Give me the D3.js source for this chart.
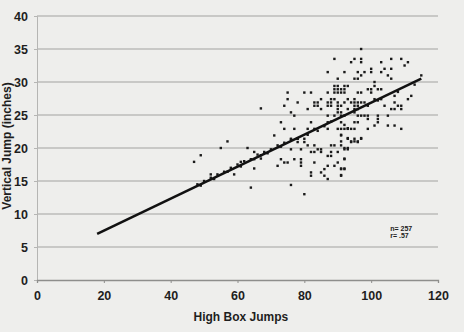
<!DOCTYPE html>
<html>
<head>
<meta charset="utf-8">
<script src="https://cdn.jsdelivr.net/npm/d3@7"></script>
<style>
  html, body { margin: 0; padding: 0; background: #eeeeec; }
  svg { display: block; font-family: "Liberation Sans", Arial, sans-serif; }
</style>
</head>
<body>
<svg id="chart"></svg>
<script>
// values (approximate)
const boxJumps = [
  97, 89, 94, 95, 97, 97, 103, 106, 109, 111, 110,
  87, 92, 96, 97, 98, 100, 100, 103, 104, 106, 105, 106, 95, 96, 90, 115,
  89, 90, 92, 93, 101, 101,
  89, 90, 91, 92, 99, 100, 102, 103,
  75, 80, 82, 87, 89, 90, 91, 92, 96, 97, 100,
  107, 112, 75, 85, 88, 89, 93, 95, 101, 103, 111,
  78, 83, 84, 87, 88, 90, 92, 94, 95, 96, 97, 98, 107,
  74, 83, 84, 87, 88, 90, 91, 95, 96, 104, 108, 109,
  81, 85, 90, 93, 95, 96, 106, 107, 109,
  76, 90, 91, 95,
  77, 87, 89, 91, 92, 96, 97, 98, 99, 102, 105,
  73, 82, 87, 91, 95, 96, 99, 102, 102,
  74, 77, 81, 83, 87, 90, 91, 92, 93, 94, 95, 99, 101, 105, 107, 109,
  71, 76, 78, 80, 91, 93, 95, 97, 94, 96, 78, 80, 81,
  83, 88, 89, 91, 92, 93, 76, 79, 84, 85,
  82, 83, 85, 88, 90, 87, 88, 92, 90,
  73, 74, 75, 77, 79, 79, 79, 72,
  83, 87, 89, 91, 92, 86, 85, 82, 82, 87, 91, 86,
  76, 80, 67,
  57, 55, 63, 49, 47, 65, 52, 59, 61, 65, 64, 67, 67,
  92, 93, 91, 91, 93, 94, 95, 96, 97, 92, 93, 92, 91, 92, 91,
  48, 50, 52, 54, 56, 58, 60, 62, 64, 66, 68, 70, 72, 74, 76,
  49, 53, 57, 61, 65, 69, 73, 78, 81, 84, 86, 88, 99, 102, 108, 113
];
const verticalJumps = [
  35, 33.5, 33, 33.5, 33.5, 33, 33, 33.5, 33.5, 33, 32.5,
  31.5, 31.5, 31.5, 31, 31.5, 32, 31.5, 31.5, 32, 32, 31, 30.5, 30.5, 30.5, 30.5, 31,
  29.4, 29.4, 29.4, 29.4, 30, 29.4,
  28.9, 28.9, 28.9, 28.9, 28.9, 28.9, 28.9, 28.9,
  28.4, 28.4, 28.4, 28.4, 28.4, 28.4, 28.4, 28.4, 28.4, 28.4, 28.4,
  27.9, 27.9, 27.4, 27.4, 27.4, 27.4, 27.4, 27.4, 27.4, 27.4, 27.4,
  26.9, 26.9, 26.9, 26.9, 26.9, 26.9, 26.9, 26.9, 26.9, 26.9, 26.9, 26.9, 26.9,
  26.4, 26.4, 26.4, 26.4, 26.4, 26.4, 26.4, 26.4, 26.4, 26.4, 26.4, 26.4,
  25.9, 25.9, 25.9, 25.9, 25.9, 25.9, 25.9, 25.9, 25.9,
  25.4, 25.4, 25.4, 25.4,
  24.9, 24.9, 24.9, 24.9, 24.9, 24.9, 24.9, 24.9, 24.9, 24.9, 24.9,
  23.9, 23.9, 23.9, 23.9, 23.9, 23.9, 24.4, 24.4, 23.9,
  22.9, 22.9, 22.9, 22.9, 22.9, 22.9, 22.9, 22.9, 22.9, 22.9, 22.9, 22.9, 23.4, 23.4, 23.4, 22.9,
  21.9, 21.4, 21.4, 21.4, 21.9, 21.4, 21.4, 21.4, 20.9, 20.9, 20.9, 20.9, 20.4,
  20.4, 20.4, 20.4, 20.4, 19.8, 19.8, 19.8, 19.8, 19.8, 19.8,
  19.4, 19.4, 19.4, 19.4, 19.4, 18.8, 18.8, 18.3, 17.8,
  18.3, 17.8, 17.8, 18.3, 18.3, 17.8, 17.3, 17.3,
  17.8, 17.3, 17.3, 16.8, 16.8, 16.8, 16.3, 16.3, 15.8, 15.3, 15.8, 15.8,
  14.4, 13, 26,
  21, 20, 20, 18.9, 17.9, 19.4, 16, 16, 17.9, 16.9, 14, 18.9, 18.4,
  23.5, 23, 22, 21, 21.5, 21, 21, 21, 21.5, 20, 20, 18.4, 16.9, 16.9, 15.9,
  14.5, 15, 15.5, 16, 16.4, 17, 17.5, 18, 18.3, 19, 19.4, 19.8, 20.4, 20.8, 21.3,
  14.3, 15.3, 16.4, 17.2, 18.3, 19.2, 20.2, 21.4, 22, 22.6, 23.3, 24, 26.4, 27.2, 28.5, 29.6
];
const fitX = [18, 115];
const fitY = [7, 30.5];
const xTicks = [0, 20, 40, 60, 80, 100, 120];
const yTicks = [0, 5, 10, 15, 20, 25, 30, 35, 40];
const statsText = ["n= 257", "r= .57"];

const W = 464, H = 332;
const margin = {top: 16, right: 26, bottom: 52, left: 37};
const width = W - margin.left - margin.right;
const height = H - margin.top - margin.bottom;

const svg = d3.select("#chart").attr("width", W).attr("height", H);
svg.append("rect").attr("width", W).attr("height", H).attr("fill", "#eeeeec");

const g = svg.append("g")
  .attr("transform", "translate(" + margin.left + "," + margin.top + ")");

const x = d3.scaleLinear().domain([0, 120]).range([0, width]);
const y = d3.scaleLinear().domain([0, 40]).range([height, 0]);

// horizontal gridlines
g.append("g")
  .selectAll("line")
  .data(yTicks.filter(d => d > 0))
  .join("line")
  .attr("x1", 0).attr("x2", width)
  .attr("y1", d => y(d)).attr("y2", d => y(d))
  .attr("stroke", "#a2a2a0")
  .attr("stroke-width", 1.2);

// y axis
const yAxis = g.append("g")
  .call(d3.axisLeft(y).tickValues(yTicks).tickSize(3).tickPadding(6));
yAxis.select(".domain").attr("stroke", "#b5b5b3");
yAxis.selectAll(".tick line").attr("stroke", "#b5b5b3");
yAxis.selectAll("text")
  .attr("fill", "#1e1e1e")
  .style("font-size", "12.5px")
  .style("font-weight", "bold");

// x axis
const xAxis = g.append("g")
  .attr("transform", "translate(0," + height + ")")
  .call(d3.axisBottom(x).tickValues(xTicks).tickSize(3).tickPadding(8));
xAxis.select(".domain").attr("stroke", "#8e8e8c").attr("stroke-width", 1.3);
xAxis.selectAll(".tick line").attr("stroke", "#8e8e8c");
xAxis.selectAll("text")
  .attr("fill", "#1e1e1e")
  .style("font-size", "12.5px")
  .style("font-weight", "bold");

// points
g.append("g")
  .selectAll("rect")
  .data(boxJumps.map((d, i) => ({bx: d, vj: verticalJumps[i]})))
  .join("rect")
  .attr("x", d => x(d.bx) - 1.2)
  .attr("y", d => y(d.vj) - 1.2)
  .attr("width", 2.4)
  .attr("height", 2.4)
  .attr("fill", "#1a1a1a");

// regression line
const line = d3.line()
  .x(d => x(d[0]))
  .y(d => y(d[1]));
g.append("path")
  .datum(fitX.map((d, i) => [d, fitY[i]]))
  .attr("d", line)
  .attr("fill", "none")
  .attr("stroke", "#111")
  .attr("stroke-width", 2.6);

// stats text
g.append("g")
  .selectAll("text")
  .data(statsText)
  .join("text")
  .attr("x", x(105.7))
  .attr("y", (d, i) => y(7.4) + i * 7)
  .attr("fill", "#222")
  .style("font-size", "7px")
  .style("font-weight", "bold")
  .text(d => d);

// axis titles
svg.append("text")
  .attr("x", margin.left + x(61))
  .attr("y", 321)
  .attr("text-anchor", "middle")
  .attr("fill", "#1e1e1e")
  .style("font-size", "12px")
  .style("font-weight", "bold")
  .text("High Box Jumps");

svg.append("text")
  .attr("transform", "rotate(-90)")
  .attr("x", -146)
  .attr("y", 11)
  .attr("text-anchor", "middle")
  .attr("fill", "#1e1e1e")
  .style("font-size", "12px")
  .style("font-weight", "bold")
  .text("Vertical Jump (inches)");
</script>
</body>
</html>
